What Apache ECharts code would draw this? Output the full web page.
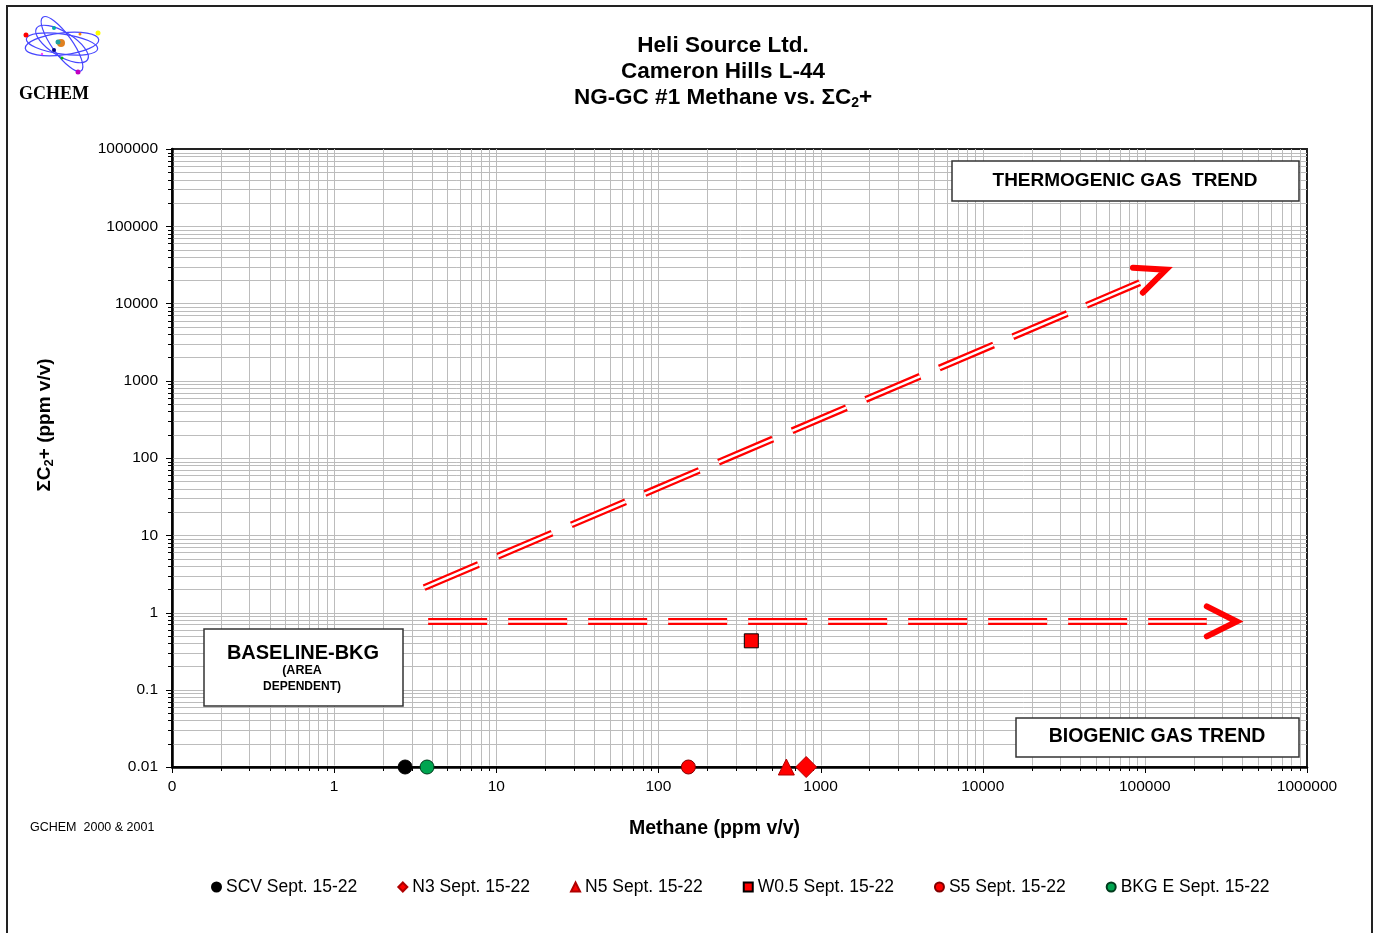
<!DOCTYPE html>
<html><head><meta charset="utf-8">
<script src="https://cdn.jsdelivr.net/npm/echarts@6/dist/echarts.min.js"></script>
<style>html,body{margin:0;padding:0;background:#fff}#c{width:1379px;height:933px}</style>
</head><body><div id="c"></div>
<script>
// ---- data ----
const seriesNames = ['SCV Sept. 15-22', 'N3 Sept. 15-22', 'N5 Sept. 15-22', 'W0.5 Sept. 15-22', 'S5 Sept. 15-22', 'BKG E Sept. 15-22'];
const methane = [2.74, 815, 615, 374, 153, 3.74];
const sumC2 = [0.01, 0.01, 0.01, 0.43, 0.01, 0.01];
const xTickLabels = ['0', '1', '10', '100', '1000', '10000', '100000', '1000000'];
const yTickLabels = ['0.01', '0.1', '1', '10', '100', '1000', '10000', '100000', '1000000'];
// trend arrows (data coordinates)
const thermoLine = [[3.59, 2.1], [93000, 18600]];
const thermoHead = [[84400, 29000], [135000, 27400], [97200, 13800]];
const bioLine = [[3.8, 0.765], [241000, 0.765]];
const bioHead = [[241000, 1.2], [369000, 0.765], [241000, 0.49]];

const X_MIN = 0.1, X_MAX = 1000000, Y_MIN = 0.01, Y_MAX = 1000000;
const GRID = '#bcbcbc';
const FONT = 'Liberation Sans, Arial, sans-serif';

// grid line positions: [value, isMajor, isEdge]
function gridVals(lo, hi) {
  const out = [];
  for (let e = lo; e <= hi; e++) {
    out.push([Math.pow(10, e), 1, (e === lo || e === hi) ? 1 : 0]);
    if (e < hi) for (let m = 2; m <= 9; m++) out.push([m * Math.pow(10, e), 0, 0]);
  }
  return out;
}
const xGrid = gridVals(-1, 6);
const yGrid = gridVals(-2, 6);

const markerStyles = [
  { symbol: 'circle', size: 14, color: '#000000', border: '#000000' },
  { symbol: 'diamond', size: 21, color: '#ff0000', border: '#b00000' },
  { symbol: 'triangle', size: 16, color: '#ff0000', border: '#b00000' },
  { symbol: 'rect', size: 14, color: '#ff0000', border: '#000000' },
  { symbol: 'circle', size: 14, color: '#ff0000', border: '#800000' },
  { symbol: 'circle', size: 14, color: '#00a550', border: '#003a1c' }
];

function fmt(v) { return String(parseFloat(Number(v).toPrecision(6))); }

const scatterSeries = seriesNames.map((name, i) => ({
  name: name,
  type: 'scatter',
  z: 10,
  symbol: markerStyles[i].symbol,
  symbolSize: markerStyles[i].size,
  itemStyle: { color: markerStyles[i].color, borderColor: markerStyles[i].border, borderWidth: 1, opacity: 1 },
  data: [[methane[i], sumC2[i]]]
}));

function dashed(data, width, color, z) {
  return {
    type: 'line', data: data, z: z, symbol: 'none', silent: true, animation: false,
    lineStyle: { color: color, width: width, type: [59, 21], cap: 'butt' }
  };
}
function head(data) {
  return {
    type: 'line', data: data, z: 6, symbol: 'none', silent: true, animation: false,
    lineStyle: { color: '#ff0000', width: 6, type: 'solid', cap: 'round', join: 'miter' }
  };
}

const gridX = {
  type: 'custom', z: 1, silent: true, animation: false,
  data: xGrid.map(g => [g[0], Y_MIN, g[1], g[2]]),
  renderItem: function (params, api) {
    const v = api.value(0), major = api.value(2), edge = api.value(3);
    const a = api.coord([v, Y_MIN]);
    const b = api.coord([v, Y_MAX]);
    const x = Math.round(a[0]) + 0.5;
    const kids = [
      { type: 'line', shape: { x1: x, y1: a[1], x2: x, y2: a[1] + (major ? 6 : 4) }, style: { stroke: '#000', lineWidth: 1 } }
    ];
    if (!edge) kids.unshift({ type: 'line', shape: { x1: x, y1: b[1], x2: x, y2: a[1] - 1.5 }, style: { stroke: GRID, lineWidth: 1 } });
    return { type: 'group', children: kids };
  }
};
const gridY = {
  type: 'custom', z: 1, silent: true, animation: false,
  data: yGrid.map(g => [X_MIN, g[0], g[1], g[2]]),
  renderItem: function (params, api) {
    const v = api.value(1), major = api.value(2), edge = api.value(3);
    const a = api.coord([X_MIN, v]);
    const b = api.coord([X_MAX, v]);
    const y = Math.round(a[1]) + 0.5;
    const kids = [
      { type: 'line', shape: { x1: a[0] - (major ? 6 : 4), y1: y, x2: a[0], y2: y }, style: { stroke: '#000', lineWidth: 1 } }
    ];
    if (!edge) kids.unshift({ type: 'line', shape: { x1: a[0] + 1.5, y1: y, x2: b[0], y2: y }, style: { stroke: GRID, lineWidth: 1 } });
    return { type: 'group', children: kids };
  }
};

const logo = [
  { type: 'ellipse', shape: { cx: 62, cy: 44, rx: 37, ry: 11 }, rotation: 0.12, origin: [62, 44] },
  { type: 'ellipse', shape: { cx: 62, cy: 44, rx: 36, ry: 10 }, rotation: -0.14, origin: [62, 44] },
  { type: 'ellipse', shape: { cx: 62, cy: 44, rx: 33, ry: 10 }, rotation: -0.95, origin: [62, 44] },
  { type: 'ellipse', shape: { cx: 62, cy: 44, rx: 30, ry: 12 }, rotation: -0.55, origin: [62, 44] }
].map(e => Object.assign(e, { z: 100, style: { fill: 'none', stroke: '#4646ff', lineWidth: 1.2 } }));
const dots = [
  [26, 35, '#ff0000', 2.5], [98, 33, '#ffff00', 2.5], [54, 28, '#00aaaa', 2], [80, 34, '#ff8000', 1.5],
  [78, 72, '#c000c0', 2.5], [62, 58, '#00c000', 1.5], [54, 50, '#000080', 2], [42, 54, '#ff40ff', 1.2],
  [61, 43, '#e08020', 4], [58, 42, '#20a0a0', 2.5]
].map(d => ({ type: 'circle', z: 101, shape: { cx: d[0], cy: d[1], r: d[3] }, style: { fill: d[2] } }));

function box(x, y, w, h) {
  return { type: 'rect', z: 100, shape: { x: x, y: y, width: w, height: h }, style: { fill: '#fff', stroke: '#333', lineWidth: 1.5 } };
}
function label(x, y, text, size) {
  return { type: 'text', z: 101, x: x, y: y, style: { text: text, font: 'bold ' + size + 'px ' + FONT, fill: '#000', align: 'center', verticalAlign: 'middle' } };
}

const chart = echarts.init(document.getElementById('c'), null, { renderer: 'canvas' });
chart.setOption({
  animation: false,
  backgroundColor: '#fff',
  title: {
    text: '{t|Heli Source Ltd.}\n{t|Cameron Hills L-44}\n{t|NG-GC #1 Methane vs. ΣC}{s|2}{t|+}',
    left: 723, top: 33, textAlign: 'center', padding: 0,
    textStyle: { rich: {
      t: { fontSize: 22.5, fontWeight: 'bold', fontFamily: FONT, lineHeight: 26, color: '#000' },
      s: { fontSize: 14, fontWeight: 'bold', fontFamily: FONT, lineHeight: 26, color: '#000', padding: [10, 0, 0, 0] }
    } }
  },
  legend: {
    data: seriesNames, left: 211, top: 878, padding: 0, itemGap: 40, itemWidth: 9, itemHeight: 9,
    textStyle: { fontSize: 17.5, fontFamily: FONT, color: '#000' }
  },
  grid: { left: 172, right: 72, top: 149, bottom: 166, show: true, borderColor: '#222', borderWidth: 2, backgroundColor: 'transparent' },
  xAxis: {
    type: 'log', logBase: 10, min: X_MIN, max: X_MAX, interval: 1,
    name: 'Methane (ppm v/v)', nameLocation: 'middle', nameGap: 52,
    nameTextStyle: { fontSize: 19.5, fontWeight: 'bold', fontFamily: FONT, color: '#000', padding: [0, 50, 0, 0] },
    axisLine: { show: true, onZero: false, lineStyle: { color: '#000', width: 2.5 } },
    axisTick: { show: false },
    minorTick: { show: false }, minorSplitLine: { show: false },
    axisLabel: { margin: 12, fontSize: 15.5, fontFamily: FONT, color: '#000', formatter: v => v < 1 ? xTickLabels[0] : fmt(v) },
    splitLine: { show: false }
  },
  yAxis: {
    type: 'log', logBase: 10, min: Y_MIN, max: Y_MAX, interval: 1,
    name: '{n|ΣC}{sub|2}{n|+ (ppm v/v)}', nameLocation: 'middle', nameGap: 116, nameRotate: 90,
    nameTextStyle: { padding: [0, 0, 0, 66], rich: {
      n: { fontSize: 19, fontWeight: 'bold', fontFamily: FONT, color: '#000' },
      sub: { fontSize: 13, fontWeight: 'bold', fontFamily: FONT, color: '#000', padding: [9, 0, 0, 0] }
    } },
    axisLine: { show: true, onZero: false, lineStyle: { color: '#000', width: 2.5 } },
    axisTick: { show: false },
    minorTick: { show: false }, minorSplitLine: { show: false },
    axisLabel: { margin: 14, fontSize: 15.5, fontFamily: FONT, color: '#000', formatter: v => fmt(v) },
    splitLine: { show: false }
  },
  graphic: [
    { type: 'rect', z: 100, shape: { x: 7, y: 6, width: 1365, height: 940 }, style: { fill: 'none', stroke: '#222', lineWidth: 2 } },
    ...logo, ...dots,
    { type: 'text', z: 101, x: 19, y: 85, style: { text: 'GCHEM', font: 'bold 18px Liberation Serif, serif', fill: '#000' } },
    { type: 'text', z: 101, x: 30, y: 821, style: { text: 'GCHEM  2000 & 2001', font: '12.5px ' + FONT, fill: '#000' } },
    box(952, 161, 347, 40), label(1125, 181, 'THERMOGENIC GAS  TREND', 19),
    box(1016, 718, 283, 39), label(1157, 737, 'BIOGENIC GAS TREND', 19.5),
    box(204, 629, 199, 77), label(303, 653, 'BASELINE-BKG', 20), label(302, 671, '(AREA', 12.5), label(302, 687, 'DEPENDENT)', 12)
  ],
  series: [
    gridX, gridY,
    dashed(thermoLine, 7, '#ff0000', 5), dashed(thermoLine, 2.5, '#ffffff', 5.5), head(thermoHead),
    dashed(bioLine, 7, '#ff0000', 5), dashed(bioLine, 2.5, '#ffffff', 5.5), head(bioHead),
    ...scatterSeries
  ]
});
</script>
</body></html>
